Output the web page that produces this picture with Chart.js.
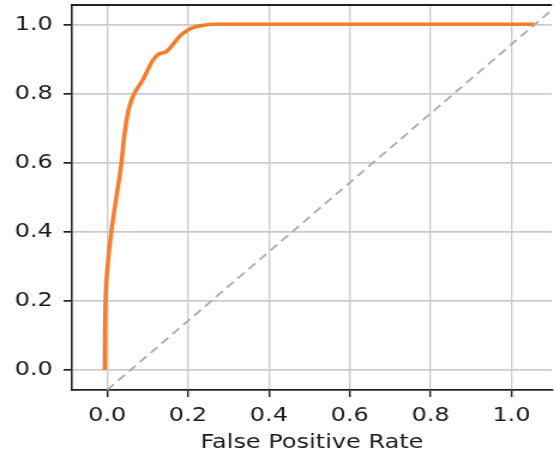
<!DOCTYPE html>
<html>
<head>
<meta charset="utf-8">
<script src="https://cdn.jsdelivr.net/npm/chart.js@4/dist/chart.umd.min.js"></script>
<style>
  html, body { margin: 0; padding: 0; background: #fff; overflow: hidden; }
  /* the reference figure is stretched sideways, so draw narrower and widen it */
  #wrap { width: 462px; height: 455px; transform: scaleX(1.1991); transform-origin: 0 0; }
</style>
</head>
<body>
<div id="wrap"><canvas id="rocChart"></canvas></div>
<script>
// ROC curve
var fpr = [-0.006, -0.0055, -0.004, 0.001, 0.012, 0.023, 0.035, 0.043, 0.051, 0.060, 0.072, 0.088, 0.109, 0.125, 0.146, 0.162, 0.179, 0.203, 0.236, 0.269, 0.40, 0.70, 1.057];
var tpr = [0.0, 0.1, 0.2, 0.3, 0.415, 0.502, 0.598, 0.685, 0.743, 0.781, 0.810, 0.839, 0.888, 0.912, 0.921, 0.941, 0.965, 0.986, 0.997, 1.0, 1.0, 1.0, 1.0];

// dashed reference line
var diagX = [0.0, 1.1];
var diagY = [-0.058, 1.042];

var xTicks = [0.0, 0.2, 0.4, 0.6, 0.8, 1.0];
var yTicks = [0.0, 0.2, 0.4, 0.6, 0.8, 1.0];

function toPoints(xs, ys) {
  return xs.map(function (x, i) { return { x: x, y: ys[i] }; });
}

// matplotlib-like top spine
var topSpine = {
  id: "topSpine",
  afterDraw: function (chart) {
    var a = chart.chartArea, ctx = chart.ctx;
    ctx.save();
    ctx.strokeStyle = "#222";
    ctx.lineWidth = 1.8;
    ctx.beginPath();
    ctx.moveTo(a.left, a.top);
    ctx.lineTo(a.right, a.top);
    ctx.stroke();
    ctx.restore();
  }
};

var ctx = document.getElementById("rocChart").getContext("2d");
var myChart = new Chart(ctx, {
  type: "line",
  data: {
    datasets: [
      {
        data: toPoints(diagX, diagY),
        borderColor: "#aaaaaa",
        borderWidth: 1.8,
        borderDash: [8, 5],
        pointRadius: 0,
        fill: false,
        tension: 0
      },
      {
        data: toPoints(fpr, tpr),
        borderColor: "#f97c2a",
        borderWidth: 3.5,
        pointRadius: 0,
        fill: false,
        cubicInterpolationMode: "monotone"
      }
    ]
  },
  options: {
    responsive: true,
    maintainAspectRatio: false,
    animation: false,
    layout: { padding: { top: 5, right: 0, left: 0, bottom: 0 } },
    plugins: {
      legend: { display: false },
      tooltip: { enabled: false }
    },
    scales: {
      x: {
        type: "linear",
        min: -0.087,
        max: 1.1,
        afterBuildTicks: function (scale) {
          scale.ticks = xTicks.map(function (v) { return { value: v }; });
        },
        afterFit: function (scale) {
          scale.height = 65;
          scale.paddingLeft = 0;
          scale.paddingRight = 0;
        },
        grid: { color: "#cccccc", lineWidth: 1.4, tickColor: "#222", tickLength: 7, tickWidth: 1.5 },
        border: { color: "#222", width: 1.8 },
        ticks: {
          color: "#1a1a1a",
          padding: 7,
          maxRotation: 0,
          font: { family: "DejaVu Sans", size: 20 },
          callback: function (v) { return Number(v).toFixed(1); }
        },
        title: {
          display: true,
          text: "False Positive Rate",
          color: "#1a1a1a",
          font: { family: "DejaVu Sans", size: 20, lineHeight: 1.2 },
          padding: { top: 0, bottom: 0 }
        }
      },
      y: {
        type: "linear",
        min: -0.058,
        max: 1.056,
        afterBuildTicks: function (scale) {
          scale.ticks = yTicks.map(function (v) { return { value: v }; });
        },
        afterFit: function (scale) {
          scale.width = 60;
          scale.paddingTop = 0;
          scale.paddingBottom = 0;
        },
        grid: { color: "#cccccc", lineWidth: 1.7, tickColor: "#222", tickLength: 7, tickWidth: 1.7 },
        border: { color: "#222", width: 1.6 },
        ticks: {
          color: "#1a1a1a",
          padding: 9,
          font: { family: "DejaVu Sans", size: 20 },
          callback: function (v) { return Number(v).toFixed(1); }
        }
      }
    }
  },
  plugins: [topSpine]
});
</script>
</body>
</html>
